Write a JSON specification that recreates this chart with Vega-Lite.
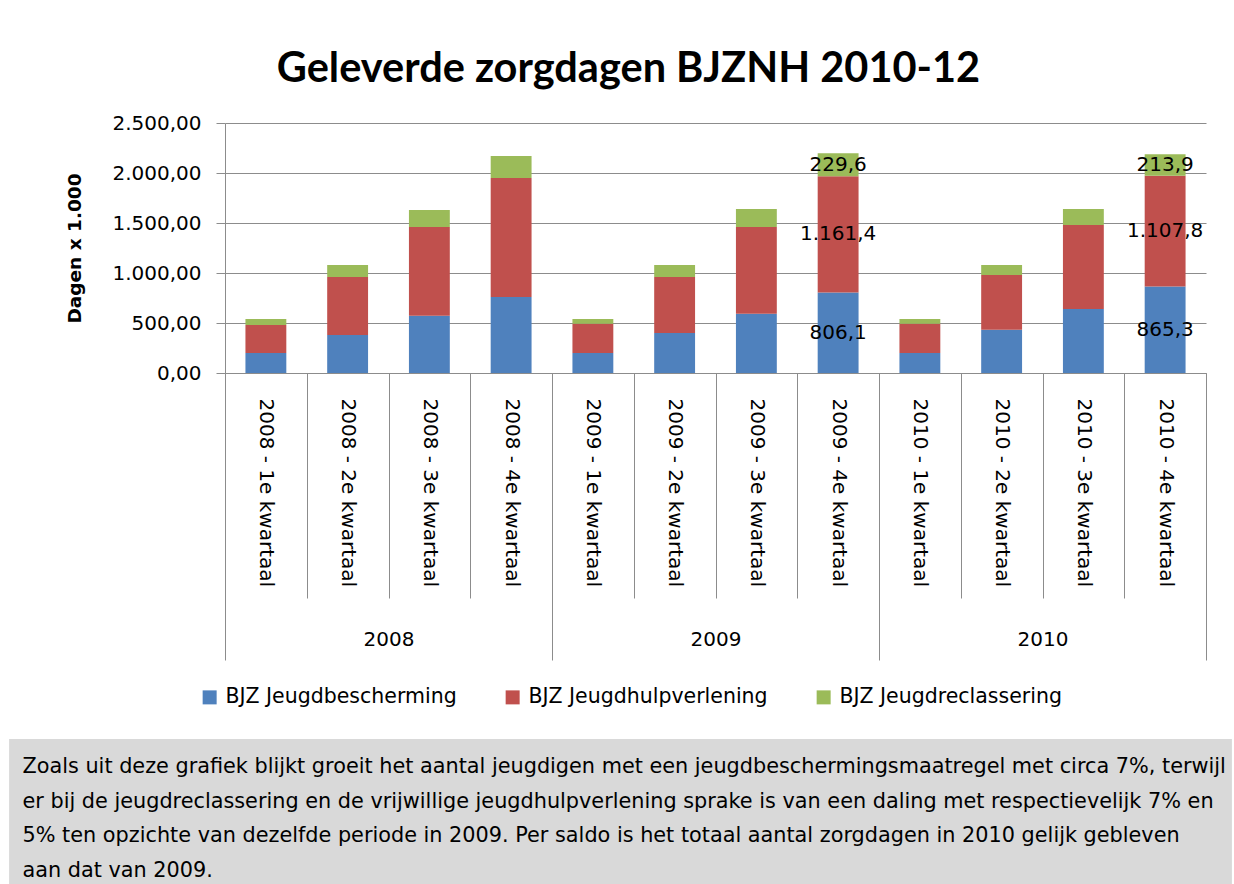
{
  "$schema": "https://vega.github.io/schema/vega-lite/v6.json",
  "background": "white",
  "padding": {"left": 9, "top": 48, "right": 0, "bottom": 0},
  "config": {
    "locale": {"number": {"decimal": ",", "thousands": ".", "grouping": [3], "currency": ["€", ""]}},
    "font": "DejaVu Sans",
    "view": {"stroke": null}
  },
  "columns": 1,
  "spacing": 78,
  "concat": [
    {
      "width": 981,
      "height": 250,
      "title": {
        "text": "Geleverde zorgdagen BJZNH 2010-12",
        "font": "Lato",
        "fontSize": 41.5,
        "fontWeight": "bold",
        "color": "#000000",
        "anchor": "middle",
        "frame": "group",
        "dx": -87,
        "baseline": "alphabetic",
        "offset": -10
      },
      "data": {
        "values": [
          {"kwartaal": "2008 - 1e kwartaal", "jaar": "2008", "reeks": "BJZ Jeugdbescherming", "dagen": 200},
          {"kwartaal": "2008 - 1e kwartaal", "jaar": "2008", "reeks": "BJZ Jeugdhulpverlening", "dagen": 280},
          {"kwartaal": "2008 - 1e kwartaal", "jaar": "2008", "reeks": "BJZ Jeugdreclassering", "dagen": 60},
          {"kwartaal": "2008 - 2e kwartaal", "jaar": "2008", "reeks": "BJZ Jeugdbescherming", "dagen": 380},
          {"kwartaal": "2008 - 2e kwartaal", "jaar": "2008", "reeks": "BJZ Jeugdhulpverlening", "dagen": 580},
          {"kwartaal": "2008 - 2e kwartaal", "jaar": "2008", "reeks": "BJZ Jeugdreclassering", "dagen": 120},
          {"kwartaal": "2008 - 3e kwartaal", "jaar": "2008", "reeks": "BJZ Jeugdbescherming", "dagen": 573},
          {"kwartaal": "2008 - 3e kwartaal", "jaar": "2008", "reeks": "BJZ Jeugdhulpverlening", "dagen": 887},
          {"kwartaal": "2008 - 3e kwartaal", "jaar": "2008", "reeks": "BJZ Jeugdreclassering", "dagen": 170},
          {"kwartaal": "2008 - 4e kwartaal", "jaar": "2008", "reeks": "BJZ Jeugdbescherming", "dagen": 760},
          {"kwartaal": "2008 - 4e kwartaal", "jaar": "2008", "reeks": "BJZ Jeugdhulpverlening", "dagen": 1190},
          {"kwartaal": "2008 - 4e kwartaal", "jaar": "2008", "reeks": "BJZ Jeugdreclassering", "dagen": 220},
          {"kwartaal": "2009 - 1e kwartaal", "jaar": "2009", "reeks": "BJZ Jeugdbescherming", "dagen": 200},
          {"kwartaal": "2009 - 1e kwartaal", "jaar": "2009", "reeks": "BJZ Jeugdhulpverlening", "dagen": 293},
          {"kwartaal": "2009 - 1e kwartaal", "jaar": "2009", "reeks": "BJZ Jeugdreclassering", "dagen": 47},
          {"kwartaal": "2009 - 2e kwartaal", "jaar": "2009", "reeks": "BJZ Jeugdbescherming", "dagen": 400},
          {"kwartaal": "2009 - 2e kwartaal", "jaar": "2009", "reeks": "BJZ Jeugdhulpverlening", "dagen": 560},
          {"kwartaal": "2009 - 2e kwartaal", "jaar": "2009", "reeks": "BJZ Jeugdreclassering", "dagen": 120},
          {"kwartaal": "2009 - 3e kwartaal", "jaar": "2009", "reeks": "BJZ Jeugdbescherming", "dagen": 593},
          {"kwartaal": "2009 - 3e kwartaal", "jaar": "2009", "reeks": "BJZ Jeugdhulpverlening", "dagen": 867},
          {"kwartaal": "2009 - 3e kwartaal", "jaar": "2009", "reeks": "BJZ Jeugdreclassering", "dagen": 180},
          {"kwartaal": "2009 - 4e kwartaal", "jaar": "2009", "reeks": "BJZ Jeugdbescherming", "dagen": 806.1},
          {"kwartaal": "2009 - 4e kwartaal", "jaar": "2009", "reeks": "BJZ Jeugdhulpverlening", "dagen": 1161.4},
          {"kwartaal": "2009 - 4e kwartaal", "jaar": "2009", "reeks": "BJZ Jeugdreclassering", "dagen": 229.6},
          {"kwartaal": "2010 - 1e kwartaal", "jaar": "2010", "reeks": "BJZ Jeugdbescherming", "dagen": 200},
          {"kwartaal": "2010 - 1e kwartaal", "jaar": "2010", "reeks": "BJZ Jeugdhulpverlening", "dagen": 293},
          {"kwartaal": "2010 - 1e kwartaal", "jaar": "2010", "reeks": "BJZ Jeugdreclassering", "dagen": 47},
          {"kwartaal": "2010 - 2e kwartaal", "jaar": "2010", "reeks": "BJZ Jeugdbescherming", "dagen": 433},
          {"kwartaal": "2010 - 2e kwartaal", "jaar": "2010", "reeks": "BJZ Jeugdhulpverlening", "dagen": 547},
          {"kwartaal": "2010 - 2e kwartaal", "jaar": "2010", "reeks": "BJZ Jeugdreclassering", "dagen": 100},
          {"kwartaal": "2010 - 3e kwartaal", "jaar": "2010", "reeks": "BJZ Jeugdbescherming", "dagen": 640},
          {"kwartaal": "2010 - 3e kwartaal", "jaar": "2010", "reeks": "BJZ Jeugdhulpverlening", "dagen": 840},
          {"kwartaal": "2010 - 3e kwartaal", "jaar": "2010", "reeks": "BJZ Jeugdreclassering", "dagen": 160},
          {"kwartaal": "2010 - 4e kwartaal", "jaar": "2010", "reeks": "BJZ Jeugdbescherming", "dagen": 865.3},
          {"kwartaal": "2010 - 4e kwartaal", "jaar": "2010", "reeks": "BJZ Jeugdhulpverlening", "dagen": 1107.8},
          {"kwartaal": "2010 - 4e kwartaal", "jaar": "2010", "reeks": "BJZ Jeugdreclassering", "dagen": 213.9}
        ]
      },
      "layer": [
        {
          "encoding": {
            "x": {
              "field": "kwartaal",
              "type": "nominal",
              "sort": null,
              "scale": {"paddingInner": 0, "paddingOuter": 0},
              "axis": {
                "orient": "bottom",
                "title": null,
                "grid": false,
                "tickBand": "extent",
                "tickSize": 225,
                "tickColor": "#8c8c8c",
                "domainColor": "#8c8c8c",
                "labelAngle": 90,
                "labelAlign": "left",
                "labelBaseline": "middle",
                "labelPadding": -200,
                "labelFont": "DejaVu Sans",
                "labelFontSize": 20,
                "labelColor": "#000000",
                "labelLimit": 0,
                "labelOverlap": false,
                "labelFlush": false
              }
            }
          },
          "layer": [
            {
              "mark": {"type": "bar", "width": {"band": 0.5}},
              "encoding": {
                "y": {
                  "field": "dagen",
                  "type": "quantitative",
                  "stack": "zero",
                  "scale": {"domain": [0, 2500], "nice": false},
                  "axis": {
                    "values": [0, 500, 1000, 1500, 2000, 2500],
                    "format": ",.2f",
                    "labelFont": "DejaVu Sans",
                    "labelFontSize": 20,
                    "labelColor": "#000000",
                    "labelPadding": 15,
                    "tickSize": 9,
                    "tickColor": "#8c8c8c",
                    "domainColor": "#8c8c8c",
                    "gridColor": "#8c8c8c",
                    "title": "Dagen x 1.000",
                    "titleFont": "DejaVu Sans",
                    "titleFontSize": 18.5,
                    "titleFontWeight": "bold",
                    "titleColor": "#000000",
                    "titleX": -150.5,
                    "titleY": 125,
                    "titleAngle": -90,
                    "titleAlign": "center",
                    "titleBaseline": "middle",
                    "minExtent": 215.5
                  }
                },
                "color": {
                  "field": "reeks",
                  "type": "nominal",
                  "scale": {
                    "domain": ["BJZ Jeugdbescherming", "BJZ Jeugdhulpverlening", "BJZ Jeugdreclassering"],
                    "range": ["#4f81bd", "#c0504d", "#9bbb59"]
                  },
                  "legend": {
                    "orient": "none",
                    "legendX": -25.6,
                    "legendY": 564,
                    "direction": "horizontal",
                    "title": null,
                    "symbolType": "square",
                    "symbolSize": 196,
                    "symbolStrokeWidth": 0,
                    "labelFont": "DejaVu Sans",
                    "labelFontSize": 20.5,
                    "labelColor": "#000000",
                    "labelOffset": 5.5,
                    "labelLimit": 0,
                    "columnPadding": 45,
                    "padding": 0
                  }
                },
                "order": {"field": "reeks", "sort": "ascending"}
              }
            },
            {
              "transform": [
                {"filter": {"field": "kwartaal", "oneOf": ["2009 - 4e kwartaal", "2010 - 4e kwartaal"]}}
              ],
              "mark": {"type": "text", "font": "DejaVu Sans", "fontSize": 20, "color": "#000000", "baseline": "middle"},
              "encoding": {
                "y": {"field": "dagen", "type": "quantitative", "stack": "zero", "bandPosition": 0.5},
                "detail": {"field": "reeks"},
                "order": {"field": "reeks", "sort": "ascending"},
                "text": {"field": "dagen", "type": "quantitative", "format": ",.1f"}
              }
            }
          ]
        },
        {
          "mark": {"type": "point", "opacity": 0},
          "encoding": {
            "x": {
              "field": "jaar",
              "type": "nominal",
              "sort": null,
              "scale": {"paddingInner": 0, "paddingOuter": 0},
              "axis": {
                "orient": "bottom",
                "title": null,
                "grid": false,
                "domain": false,
                "tickBand": "extent",
                "tickSize": 287,
                "tickColor": "#8c8c8c",
                "labelAngle": 0,
                "labelAlign": "center",
                "labelBaseline": "middle",
                "labelPadding": -21,
                "labelFont": "DejaVu Sans",
                "labelFontSize": 20,
                "labelColor": "#000000"
              }
            }
          }
        }
      ],
      "resolve": {"scale": {"x": "independent"}, "axis": {"x": "independent"}}
    },
    {
      "width": 1006.5,
      "height": 146,
      "view": {"stroke": null},
      "data": {
        "values": [
          {"regel": 1, "tekst": "Zoals uit deze grafiek blijkt groeit het aantal jeugdigen met een jeugdbeschermingsmaatregel met circa 7%, terwijl"},
          {"regel": 2, "tekst": "er bij de jeugdreclassering en de vrijwillige jeugdhulpverlening sprake is van een daling met respectievelijk 7% en"},
          {"regel": 3, "tekst": "5% ten opzichte van dezelfde periode in 2009. Per saldo is het totaal aantal zorgdagen in 2010 gelijk gebleven"},
          {"regel": 4, "tekst": "aan dat van 2009."}
        ]
      },
      "layer": [
        {
          "mark": {"type": "rect", "color": "#d9d9d9"},
          "encoding": {
            "x": {"datum": -215.5, "type": "quantitative", "scale": {"domain": [0, 1006.5], "nice": false, "zero": false}, "axis": null},
            "x2": {"datum": 1006.5}
          }
        },
        {
          "mark": {"type": "text", "font": "DejaVu Sans", "fontSize": 20.8, "color": "#000000", "align": "left", "baseline": "alphabetic", "dy": 13},
          "encoding": {
            "x": {"datum": -202.5, "type": "quantitative"},
            "y": {"field": "regel", "type": "ordinal", "scale": {"type": "point", "padding": 0.586}, "axis": null},
            "text": {"field": "tekst"}
          }
        }
      ]
    }
  ]
}
